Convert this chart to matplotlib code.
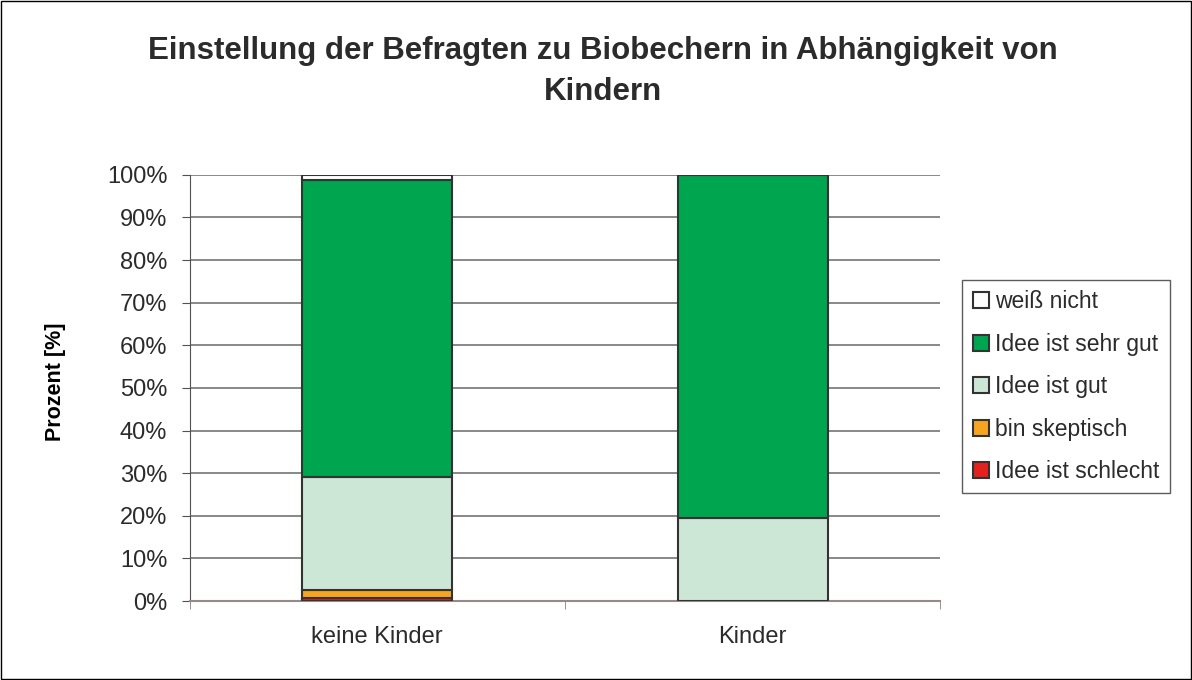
import matplotlib.pyplot as plt
import numpy as np

plt.rcParams['font.family'] = ['Liberation Sans', 'DejaVu Sans']
plt.rcParams['text.color'] = '#2b2b2b'

# Daten
gruppen = ['keine Kinder', 'Kinder']
kategorien = ['Idee ist schlecht', 'bin skeptisch', 'Idee ist gut', 'Idee ist sehr gut', 'weiß nicht']
werte = {
    'Idee ist schlecht': [0.7, 0.0],
    'bin skeptisch': [1.9, 0.0],
    'Idee ist gut': [26.5, 19.5],
    'Idee ist sehr gut': [69.7, 80.5],
    'weiß nicht': [1.2, 0.0],
}
farben = ['#E3211F', '#F5A51F', '#CDE7D7', '#00A550', '#FFFFFF']

fig = plt.figure(figsize=(11.92, 6.8), dpi=100)
ax = fig.add_axes([0.159, 0.116, 0.63, 0.627])

x = np.arange(len(gruppen))
unten = np.zeros(len(gruppen))
for kat, farbe in zip(kategorien, farben):
    v = np.array(werte[kat])
    ax.bar(x, v, bottom=unten, width=0.4, color=farbe, edgecolor='#333333',
           linewidth=1.5, label=kat, zorder=3)
    unten += v

ax.set_xlim(-0.5, 1.5)
ax.set_ylim(0, 100)
ax.set_yticks(np.arange(0, 101, 10))
ax.set_yticklabels([f'{t}%' for t in range(0, 101, 10)], fontsize=17)
ax.set_xticks(x)
ax.set_xticklabels(gruppen, fontsize=17)
ax.tick_params(axis='x', length=0, pad=18, labelcolor='#2b2b2b')
ax.tick_params(axis='y', labelcolor='#2b2b2b', pad=10)
ax.set_xticks([-0.5, 0.5, 1.5], minor=True)
ax.tick_params(axis='x', which='minor', length=6, color='#888080')
ax.tick_params(axis='y', length=6, color='#555050')
ax.grid(axis='y', color='#7f7f7f', linewidth=1.3, zorder=0)
for s in ['top', 'right']:
    ax.spines[s].set_visible(False)
ax.spines['left'].set_color('#555050')
ax.spines['bottom'].set_color('#998888')
ax.spines['bottom'].set_linewidth(1.5)
ax.set_ylabel('Prozent [%]', fontsize=15.5, fontweight='bold')
ax.yaxis.set_label_coords(-0.165, 0.515)

handles, labels = ax.get_legend_handles_labels()
leg = ax.legend(handles[::-1], labels[::-1], loc='center left',
                bbox_to_anchor=(1.029, 0.503), fontsize=16.5, frameon=True,
                fancybox=False, edgecolor='#333333', handlelength=0.7,
                handleheight=0.7, handletextpad=0.3, labelspacing=0.85,
                borderpad=0.45, borderaxespad=0)
leg.get_frame().set_linewidth(1.0)

fig.text(0.506, 0.895, 'Einstellung der Befragten zu Biobechern in Abhängigkeit von\nKindern',
         ha='center', va='center', fontsize=22.5, fontweight='bold',
         linespacing=1.5)

fig.patches.append(plt.Rectangle((0.001, 0.001), 0.998, 0.998, transform=fig.transFigure,
                                 fill=False, edgecolor='black', linewidth=1))

fig.savefig('out.png', dpi=100)
